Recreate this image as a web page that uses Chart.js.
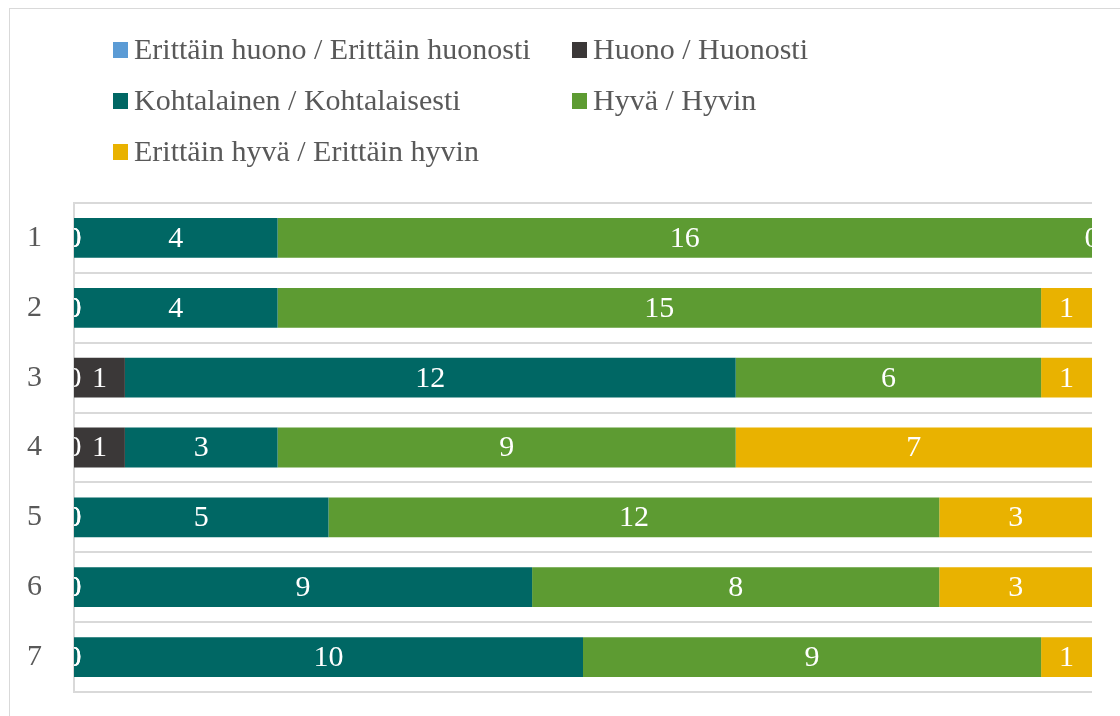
<!DOCTYPE html>
<html>
<head>
<meta charset="utf-8">
<script src="https://cdn.jsdelivr.net/npm/chart.js@4.4.0/dist/chart.umd.min.js"></script>
<style>
  html, body { margin: 0; padding: 0; background: #fff; overflow: hidden; }
  #frame { position: absolute; left: 9px; top: 8px; width: 1200px; height: 800px; border: 1px solid #d9d9d9; }
  #kuvio { position: absolute; left: 0; top: 0; }
</style>
</head>
<body>
<div id="frame"></div>
<canvas id="kuvio" width="1120" height="716"></canvas>
<script>
// kysymykset 1-7, vastaajia 20 / rivi
var kategoriat = ["1", "2", "3", "4", "5", "6", "7"];
var sarjat = ["Erittäin huono / Erittäin huonosti", "Huono / Huonosti", "Kohtalainen / Kohtalaisesti", "Hyvä / Hyvin", "Erittäin hyvä / Erittäin hyvin"];
var erittainHuono = [0, 0, 0, 0, 0, 0, 0];
var huono = [0, 0, 1, 1, 0, 0, 0];
var kohtalainen = [4, 4, 12, 3, 5, 9, 10];
var hyva = [16, 15, 6, 9, 12, 8, 9];
var erittainHyva = [0, 1, 1, 7, 3, 3, 1];
var varit = ['#5b9bd5', '#3b3838', '#006764', '#5d9b32', '#e9b200'];

var fontti = '"Liberation Serif", "Times New Roman", serif';

/* arvot palkkien keskelle, leikataan kuvaalueeseen */
var arvoPlugin = {
    id: 'arvot',
    afterDatasetsDraw: function(chart) {
        var ctx = chart.ctx;
        var a = chart.chartArea;
        ctx.save();
        ctx.beginPath();
        ctx.rect(a.left, a.top, a.right - a.left, a.bottom - a.top);
        ctx.clip();
        ctx.fillStyle = '#ffffff';
        ctx.font = '30px ' + fontti;
        ctx.textAlign = 'center';
        ctx.textBaseline = 'middle';
        chart.data.datasets.forEach(function(ds, i) {
            var meta = chart.getDatasetMeta(i);
            meta.data.forEach(function(el, j) {
                var keski = (el.x + el.base) / 2;
                ctx.fillText(String(ds.data[j]), keski, el.y + 1);
            });
        });
        ctx.restore();
    }
};

/* selite kahteen sarakkeeseen */
var selitePlugin = {
    id: 'selite',
    afterDraw: function(chart) {
        var ctx = chart.ctx;
        var sarakkeet = [113, 572];
        var rivit = [50, 101, 152];
        ctx.save();
        ctx.font = '30px ' + fontti;
        ctx.textBaseline = 'middle';
        ctx.textAlign = 'left';
        chart.data.datasets.forEach(function(ds, i) {
            var x = sarakkeet[i % 2];
            var y = rivit[Math.floor(i / 2)];
            ctx.fillStyle = ds.backgroundColor;
            ctx.fillRect(x, y - 8, 15, 16);
            ctx.fillStyle = '#595959';
            ctx.fillText(ds.label, x + 21, y + 1);
        });
        ctx.restore();
    }
};

var sarjaData = [erittainHuono, huono, kohtalainen, hyva, erittainHyva];

var ctxKuvio = document.getElementById("kuvio");
var kuvio = new Chart(ctxKuvio, {
    type: 'bar',
    data: {
        labels: kategoriat,
        datasets: sarjat.map(function(nimi, i) {
            return {
                label: nimi,
                data: sarjaData[i],
                backgroundColor: varit[i],
                borderWidth: 0,
                barPercentage: 0.57,
                categoryPercentage: 1.0
            };
        })
    },
    options: {
        indexAxis: 'y',
        responsive: false,
        maintainAspectRatio: false,
        devicePixelRatio: 1,
        animation: false,
        layout: { padding: { left: 0, right: 28, top: 203, bottom: 24 } },
        plugins: {
            legend: { display: false },
            tooltip: { enabled: false }
        },
        scales: {
            x: {
                stacked: true,
                min: 0,
                max: 20,
                display: false
            },
            y: {
                stacked: true,
                afterFit: function(scale) {
                    scale.width = 74;
                    scale.paddingTop = 0;
                    scale.paddingBottom = 0;
                },
                grid: {
                    offset: true,
                    color: '#d9d9d9',
                    lineWidth: 2,
                    drawTicks: false
                },
                border: { display: true, color: '#d9d9d9', width: 2 },
                ticks: {
                    color: '#595959',
                    padding: 32,
                    font: { family: fontti, size: 30 }
                }
            }
        }
    },
    plugins: [arvoPlugin, selitePlugin]
});
</script>
</body>
</html>
